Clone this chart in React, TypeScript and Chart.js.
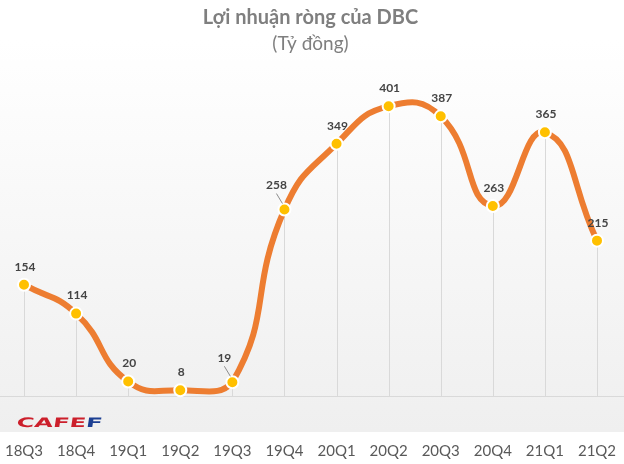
import React, { useEffect, useRef } from "react";
import { Chart, registerables } from "chart.js";
Chart.register(...registerables);

const categories = ["18Q3", "18Q4", "19Q1", "19Q2", "19Q3", "19Q4", "20Q1", "20Q2", "20Q3", "20Q4", "21Q1", "21Q2"];
const profit = [154, 114, 20, 8, 19, 258, 349, 401, 387, 263, 365, 215];
const titleText = "Lợi nhuận ròng của DBC";
const subtitleText = "(Tỷ đồng)";
const yMin = 0;
const yMax = 450;
// categories whose value label is pulled up-left with a leader line
const leaderLabelIdx = [4, 5];

const FONT = "Lato, 'Noto Sans', 'DejaVu Sans', sans-serif";
const TEXT_GRAY = "#595959";
const LABEL_GRAY = "#444444";

const bgPlugin = {
  id: "bg",
  beforeDraw(chart: any) {
    const { ctx, width, height, chartArea } = chart;
    ctx.save();
    ctx.fillStyle = "#ffffff";
    ctx.fillRect(0, 0, width, height);
    const bottom = chartArea.bottom + 36;
    const g = ctx.createLinearGradient(0, 40, 0, bottom);
    g.addColorStop(0, "#ffffff");
    g.addColorStop(1, "#efefef");
    ctx.fillStyle = g;
    ctx.fillRect(0, 0, width, bottom);
    ctx.restore();
  },
};

const dropLinesPlugin = {
  id: "dropLines",
  beforeDatasetsDraw(chart: any) {
    const { ctx, width, chartArea } = chart;
    const meta = chart.getDatasetMeta(0);
    ctx.save();
    ctx.strokeStyle = "#d9d9d9";
    ctx.lineWidth = 1;
    meta.data.forEach((pt: any) => {
      const x = Math.round(pt.x) + 0.5;
      ctx.beginPath();
      ctx.moveTo(x, pt.y);
      ctx.lineTo(x, chartArea.bottom);
      ctx.stroke();
    });
    ctx.beginPath();
    const yb = Math.round(chartArea.bottom) + 0.5;
    ctx.moveTo(0, yb);
    ctx.lineTo(width, yb);
    ctx.stroke();
    ctx.restore();
  },
};

const valueLabelsPlugin = {
  id: "valueLabels",
  afterDatasetsDraw(chart: any) {
    const { ctx } = chart;
    const meta = chart.getDatasetMeta(0);
    const values = chart.data.datasets[0].data;
    ctx.save();
    ctx.font = `bold 12px ${FONT}`;
    ctx.fillStyle = LABEL_GRAY;
    ctx.textAlign = "center";
    ctx.textBaseline = "middle";
    meta.data.forEach((pt: any, i: number) => {
      const v = values[i];
      if (leaderLabelIdx.includes(i)) {
        const lx = pt.x - 8;
        const ly = pt.y - 24;
        ctx.fillText(String(v), lx, ly);
        ctx.strokeStyle = "#8c8c8c";
        ctx.lineWidth = 1;
        ctx.beginPath();
        ctx.moveTo(lx, ly + 8);
        ctx.lineTo(pt.x - 2, pt.y - 6);
        ctx.stroke();
      } else {
        ctx.fillText(String(v), pt.x + 1, pt.y - 18);
      }
    });
    ctx.restore();
  },
};

const logoPlugin = {
  id: "logo",
  afterDraw(chart: any) {
    const { ctx } = chart;
    ctx.save();
    ctx.font = `bold 13px 'DejaVu Sans', sans-serif`;
    ctx.textBaseline = "alphabetic";
    const redPart = "CAFE";
    const bluePart = "F";
    const wRed = ctx.measureText(redPart).width;
    const wBlue = ctx.measureText(bluePart).width;
    const targetW = 86;
    const sx = targetW / (wRed + wBlue);
    ctx.translate(16, 427);
    ctx.transform(sx, 0, -0.15, 1, 0, 0);
    ctx.fillStyle = "#cc1f2b";
    ctx.fillText(redPart, 0, 0);
    ctx.fillStyle = "#1c3f92";
    ctx.fillText(bluePart, wRed, 0);
    ctx.restore();
  },
};

export default function App() {
  const ref = useRef<HTMLCanvasElement | null>(null);
  useEffect(() => {
    if (!ref.current) return;
    const chart = new Chart(ref.current, {
      type: "line",
      data: {
        labels: categories,
        datasets: [
          {
            data: profit,
            borderColor: "#ED7D31",
            borderWidth: 6,
            tension: 0.5,
            fill: false,
            pointRadius: 6,
            pointHoverRadius: 6,
            pointBackgroundColor: "#FFC000",
            pointBorderColor: "#ffffff",
            pointBorderWidth: 2,
            clip: false as any,
          },
        ],
      },
      options: {
        responsive: false,
        animation: false,
        devicePixelRatio: 1,
        layout: { padding: { left: 24, right: 27, top: 0, bottom: 0 } },
        plugins: {
          legend: { display: false },
          tooltip: { enabled: false },
          title: {
            display: true,
            text: titleText,
            color: "#7f7f7f",
            font: { family: FONT, size: 20, weight: "bold" },
            padding: { top: 6, bottom: 2 },
          },
          subtitle: {
            display: true,
            text: subtitleText,
            color: "#7f7f7f",
            font: { family: FONT, size: 19, weight: "normal" },
            padding: { top: 0, bottom: 16 },
          },
        },
        scales: {
          x: {
            type: "category",
            offset: false,
            grid: { display: false, drawTicks: false },
            border: { display: false },
            ticks: {
              color: TEXT_GRAY,
              font: { family: FONT, size: 15 },
              padding: 46,
              maxRotation: 0,
              autoSkip: false,
            },
            afterFit(scale: any) {
              scale.height = 68;
              scale.paddingLeft = 0;
              scale.paddingRight = 0;
            },
          },
          y: {
            display: false,
            min: yMin,
            max: yMax,
          },
        },
      },
      plugins: [bgPlugin, dropLinesPlugin, valueLabelsPlugin, logoPlugin],
    });
    return () => chart.destroy();
  }, []);
  return (
    <div style={{ position: "absolute", left: 0, top: 0, width: 624, height: 464 }}>
      <canvas ref={ref} width={624} height={464} style={{ display: "block" }} />
    </div>
  );
}
